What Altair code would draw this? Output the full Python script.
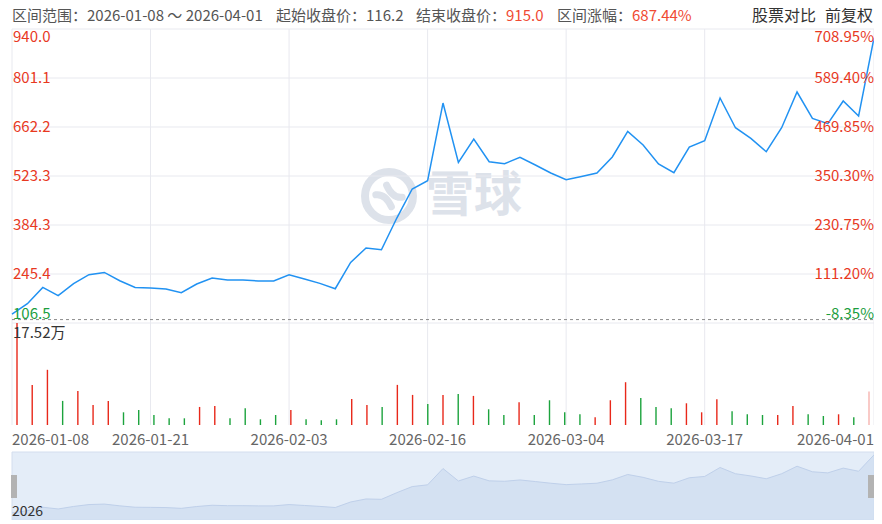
import altair as alt
import pandas as pd

# ---------------- data ----------------
dates = [
    "2026-01-08", "2026-01-09", "2026-01-12", "2026-01-13", "2026-01-14", "2026-01-15",
    "2026-01-16", "2026-01-19", "2026-01-20", "2026-01-21", "2026-01-22", "2026-01-23",
    "2026-01-26", "2026-01-27", "2026-01-28", "2026-01-29", "2026-01-30", "2026-02-02",
    "2026-02-03", "2026-02-04", "2026-02-05", "2026-02-06", "2026-02-09", "2026-02-10",
    "2026-02-11", "2026-02-12", "2026-02-13", "2026-02-16", "2026-02-20", "2026-02-23",
    "2026-02-24", "2026-02-25", "2026-02-26", "2026-02-27", "2026-03-02", "2026-03-03",
    "2026-03-04", "2026-03-05", "2026-03-06", "2026-03-09", "2026-03-10", "2026-03-11",
    "2026-03-12", "2026-03-13", "2026-03-16", "2026-03-17", "2026-03-18", "2026-03-19",
    "2026-03-20", "2026-03-23", "2026-03-24", "2026-03-25", "2026-03-26", "2026-03-27",
    "2026-03-30", "2026-03-31", "2026-04-01",
]
close = [
    132.0, 161.2, 207.4, 183.9, 217.9, 243.4, 249.9, 226.4, 207.4, 205.7,
    202.9, 192.4, 217.1, 234.1, 228.4, 228.4, 225.6, 225.6, 243.4, 231.2,
    218.8, 203.7, 278.3, 319.1, 314.3, 404.1, 486.4, 509.9, 730.1, 561.8,
    628.1, 563.7, 558.1, 575.9, 554.4, 531.7, 512.7, 522.1, 531.7, 577.1,
    649.6, 611.1, 557.2, 532.6, 605.4, 623.3, 744.3, 660.1, 629.8, 592.1,
    660.1, 761.3, 686.5, 671.5, 735.8, 693.3, 915.0,
]
volume = [  # 万
    17.52, 6.89, 9.48, 4.14, 5.86, 3.45, 4.14, 2.18, 2.58, 1.72,
    1.15, 1.15, 3.10, 3.27, 1.15, 2.87, 0.98, 1.72, 2.58, 0.98,
    0.80, 0.98, 4.48, 3.45, 3.10, 6.89, 5.17, 3.62, 5.17, 5.34,
    5.00, 2.70, 1.72, 3.91, 1.72, 4.25, 2.18, 1.84, 1.32, 4.25,
    7.35, 4.65, 3.10, 2.87, 3.73, 2.18, 4.42, 2.36, 1.84, 1.72,
    1.72, 3.27, 1.84, 1.55, 1.84, 1.32, 5.74,
]
direction = [
    "up", "up", "up", "down", "up", "up", "up", "down", "down", "down",
    "down", "down", "up", "up", "down", "down", "down", "down", "up", "down",
    "down", "down", "up", "up", "down", "up", "up", "down", "up", "down",
    "up", "down", "down", "up", "down", "down", "down", "down", "up", "up",
    "up", "down", "down", "down", "up", "up", "up", "down", "down", "down",
    "up", "up", "down", "down", "up", "down", "up",
]
base_price = 116.2
price_ticks = [106.5, 245.4167, 384.3333, 523.25, 662.1667, 801.0833, 940.0]
price_labels = ["106.5", "245.4", "384.3", "523.3", "662.2", "801.1", "940.0"]
pct_labels = ["-8.35%", "111.20%", "230.75%", "350.30%", "469.85%", "589.40%", "708.95%"]
date_tick_idx = [0, 9, 18, 27, 36, 45, 56]
vol_max = 17.52
vol_label = "17.52万"
nav_label = "2026"
header_texts = ["区间范围：2026-01-08 ～ 2026-04-01", "起始收盘价：116.2", "结束收盘价：",
                "915.0", "区间涨幅：", "687.44%", "股票对比", "前复权"]
watermark = "雪球"

# ---------------- style ----------------
FONT = "Noto Sans CJK SC"
RED = "#e8391f"
GREEN = "#1b9e3e"
BAR_RED = "#e8281a"
BAR_GREEN = "#1ca33d"
LINE = "#2192f2"
GRID = "#e8e9ef"
GRAY = "#555555"
WM = "#dde2ea"

W = 862
T = 21                      # header band height
PRICE_TOP = T
PRICE_BOTTOM = T + 294
VOL_BOTTOM = T + 396
NAV_TOP = T + 423
NAV_BOTTOM = T + 491
H = NAV_BOTTOM

df = pd.DataFrame({"i": list(range(len(dates))), "date": dates, "close": close,
                   "vol": volume, "dir": direction})
ticks = pd.DataFrame({"k": list(range(len(price_ticks))), "v": price_ticks,
                      "lab": price_labels, "pct": pct_labels})
xt = pd.DataFrame({"k": list(range(len(date_tick_idx))), "i": date_tick_idx,
                   "lab": [dates[i] for i in date_tick_idx]})
n = len(dates) - 1

xs = alt.Scale(domain=[0, n], range=[0, W], nice=False, zero=False)
ys = alt.Scale(domain=[price_ticks[0], price_ticks[-1]], range=[PRICE_BOTTOM, PRICE_TOP],
               nice=False, zero=False)
vs = alt.Scale(domain=[0, vol_max], range=[VOL_BOTTOM, PRICE_BOTTOM], nice=False, zero=True)
nys = alt.Scale(domain=[35, 940], range=[NAV_BOTTOM, NAV_TOP + 1], nice=False, zero=False)


def txt(s, x, y, color, size=15, align="left", baseline="middle", weight="normal"):
    return alt.Chart(pd.DataFrame({"t": [s]})).mark_text(
        align=align, baseline=baseline, font=FONT, fontSize=size, color=color, fontWeight=weight
    ).encode(text="t:N", x=alt.value(x), y=alt.value(y))


layers = []

# watermark
layers.append(
    alt.Chart(pd.DataFrame({"t": [watermark]})).mark_point(
        shape="circle", size=2300, filled=False, stroke=WM, strokeWidth=8, opacity=1
    ).encode(x=alt.value(377), y=alt.value(T + 167))
)
layers.append(
    alt.Chart(pd.DataFrame({"t": [watermark]})).mark_point(
        shape="M -0.55 -0.05 Q -0.15 -0.1 0.1 0.45 M 0.55 0.05 Q 0.15 0.1 -0.1 -0.45",
        size=2300, filled=False, stroke=WM, strokeWidth=7, strokeCap="round", opacity=1
    ).encode(x=alt.value(377), y=alt.value(T + 167))
)
layers.append(txt(watermark, 414, T + 168, WM, size=48, weight="bold"))

# horizontal grid
layers.append(
    alt.Chart(ticks).mark_rule(color=GRID, strokeWidth=1).encode(
        y=alt.Y("v:Q", scale=ys, axis=None), x=alt.value(0), x2=alt.value(W)
    )
)
# vertical grid
layers.append(
    alt.Chart(xt).mark_rule(color=GRID, strokeWidth=1).encode(
        x=alt.X("i:Q", scale=xs, axis=None), y=alt.value(PRICE_TOP), y2=alt.value(VOL_BOTTOM)
    )
)
# base price dashed line
layers.append(
    alt.Chart(pd.DataFrame({"v": [base_price]})).mark_rule(
        color="#8a8a8a", strokeWidth=1, strokeDash=[3, 3]
    ).encode(y=alt.Y("v:Q", scale=ys, axis=None), x=alt.value(0), x2=alt.value(W))
)
# price line
layers.append(
    alt.Chart(df).mark_line(color=LINE, strokeWidth=1.5).encode(
        x=alt.X("i:Q", scale=xs, axis=None), y=alt.Y("close:Q", scale=ys, axis=None)
    )
)

# price labels (left) and percent labels (right)
lab_color = alt.condition(f"datum.v < {base_price}", alt.value(GREEN), alt.value(RED))
last_k = len(price_ticks) - 1
for filt, base, dy in [(f"datum.k == {last_k}", "top", 1),
                       (f"datum.k > 0 && datum.k < {last_k}", "middle", 0),
                       ("datum.k == 0", "bottom", -1)]:
    layers.append(
        alt.Chart(ticks).transform_filter(filt).mark_text(
            align="left", baseline=base, font=FONT, fontSize=15, dx=1, dy=dy
        ).encode(y=alt.Y("v:Q", scale=ys, axis=None), x=alt.value(0), text="lab:N", color=lab_color)
    )
    layers.append(
        alt.Chart(ticks).transform_filter(filt).mark_text(
            align="right", baseline=base, font=FONT, fontSize=15, dx=0, dy=dy
        ).encode(y=alt.Y("v:Q", scale=ys, axis=None), x=alt.value(W), text="pct:N", color=lab_color)
    )

# volume bars
layers.append(
    alt.Chart(df).mark_bar(size=1.4).encode(
        x=alt.X("i:Q", scale=xs, axis=None),
        y=alt.Y("vol:Q", scale=vs, axis=None),
        color=alt.Color("dir:N", scale=alt.Scale(domain=["up", "down"], range=[BAR_RED, BAR_GREEN]),
                        legend=None),
        opacity=alt.condition(f"datum.i == {n}", alt.value(0.35), alt.value(1.0)),
    )
)
layers.append(
    alt.Chart(pd.DataFrame({"v": [vol_max], "t": [vol_label]})).mark_text(
        align="left", baseline="top", font=FONT, fontSize=15, color="#333333", dx=1, dy=3
    ).encode(y=alt.Y("v:Q", scale=vs, axis=None), x=alt.value(0), text="t:N")
)

# date labels
for filt, al in [("datum.k == 0", "left"),
                 (f"datum.k > 0 && datum.k < {len(date_tick_idx) - 1}", "center"),
                 (f"datum.k == {len(date_tick_idx) - 1}", "right")]:
    layers.append(
        alt.Chart(xt).transform_filter(filt).mark_text(
            align=al, baseline="middle", font=FONT, fontSize=15, color="#666666"
        ).encode(x=alt.X("i:Q", scale=xs, axis=None), y=alt.value(T + 411), text="lab:N")
    )

# navigator
layers.append(
    alt.Chart(pd.DataFrame({"t": [nav_label]})).mark_rect(fill="#e4edf8", stroke="#d3deee").encode(
        x=alt.value(0), x2=alt.value(W), y=alt.value(NAV_TOP), y2=alt.value(NAV_BOTTOM)
    )
)
layers.append(
    alt.Chart(df).mark_area(color="#cddbf0", line={"color": "#bfd0ea", "strokeWidth": 1}).encode(
        x=alt.X("i:Q", scale=xs, axis=None),
        y=alt.Y("close:Q", scale=nys, axis=None),
        y2=alt.value(NAV_BOTTOM),
    )
)
for hx in (-1, W - 6):
    layers.append(
        alt.Chart(pd.DataFrame({"t": [nav_label]})).mark_rect(fill="#b3b3b3").encode(
            x=alt.value(hx), x2=alt.value(hx + 6), y=alt.value(T + 446), y2=alt.value(T + 469)
        )
    )
layers.append(txt(nav_label, 0, NAV_BOTTOM - 1, "#333333", size=14, baseline="bottom"))

# header
hx_pos = [0, 264, 404, 494, 545, 620, 740, 813]
hcolors = [GRAY, GRAY, GRAY, "#f04a33", GRAY, "#f04a33", "#333333", "#333333"]
hsizes = [15, 15, 15, 15, 15, 15, 16, 16]
for s, x, c, fs in zip(header_texts, hx_pos, hcolors, hsizes):
    layers.append(txt(s, x, 8, c, size=fs))

chart = alt.layer(*layers).resolve_scale(
    x="independent", y="independent", color="independent", opacity="independent"
).properties(
    width=W, height=H,
    autosize=alt.AutoSizeParams(type="none"),
    padding={"left": 4, "top": 0, "right": 0, "bottom": 0},
    background="white",
).configure_view(stroke=None)

chart.save("out.html", embed_options={"renderer": "svg", "actions": False})
